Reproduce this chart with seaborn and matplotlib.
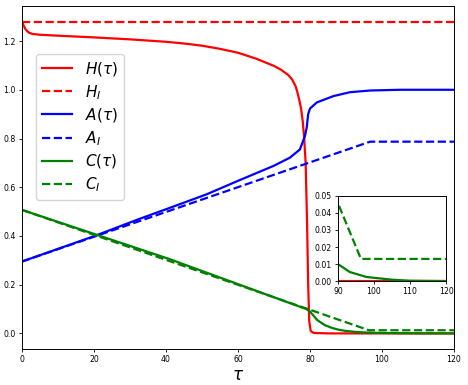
import matplotlib
matplotlib.use("Agg")
import matplotlib.pyplot as plt
import seaborn as sns

# values
tau_H = [0, 0.5, 1, 1.5, 2, 3, 5, 10, 20, 30, 40, 45, 50, 55, 60, 65, 70, 72, 74,
         75, 76, 76.5, 77, 77.5, 78, 78.4, 78.8, 79.2, 79.5, 79.8, 80.2, 81, 85, 120]
H = [1.28, 1.262, 1.248, 1.240, 1.234, 1.229, 1.226, 1.222, 1.215, 1.207, 1.197,
     1.190, 1.181, 1.168, 1.152, 1.128, 1.098, 1.082, 1.060, 1.043, 1.015, 0.99,
     0.96, 0.925, 0.87, 0.80, 0.70, 0.45, 0.2, 0.05, 0.01, 0.002, 0.0, 0.0]

tau_HI = [0, 120]
H_I = [1.28, 1.28]

tau_A = [0, 20, 32.8, 41, 51.3, 60.6, 69.8, 74.4, 77.2, 78.6, 79.1, 79.5, 80.0,
         81.9, 86.5, 91.1, 96.7, 105, 120]
A = [0.295, 0.399, 0.471, 0.515, 0.571, 0.630, 0.687, 0.721, 0.755, 0.81, 0.845,
     0.90, 0.923, 0.948, 0.974, 0.990, 0.997, 1.0, 1.0]

tau_AI = [0, 96.7, 120]
A_I = [0.295, 0.787, 0.787]

tau_C = [0, 41, 78, 79, 80, 82, 84, 86, 88, 90, 93.3, 97.9, 105, 110, 120]
C = [0.507, 0.305, 0.105, 0.10, 0.09, 0.055, 0.035, 0.023, 0.015, 0.0100, 0.0053,
     0.0024, 0.0008, 0.0002, 0.0]

tau_CI = [0, 96.4, 120]
C_I = [0.507, 0.013, 0.013]

lw = 1.6

fig = plt.figure(figsize=(4.68, 3.85), dpi=100)
ax = fig.add_axes([0.047, 0.0935, 0.923, 0.891])

sns.lineplot(x=tau_H, y=H, color="r", lw=lw, ax=ax, label=r"$H(\tau)$")
sns.lineplot(x=tau_HI, y=H_I, color="r", lw=lw, linestyle="--", ax=ax, label=r"$H_I$")
sns.lineplot(x=tau_A, y=A, color="b", lw=lw, ax=ax, label=r"$A(\tau)$")
sns.lineplot(x=tau_AI, y=A_I, color="b", lw=lw, linestyle="--", ax=ax, label=r"$A_I$")
sns.lineplot(x=tau_C, y=C, color="g", lw=lw, ax=ax, label=r"$C(\tau)$")
sns.lineplot(x=tau_CI, y=C_I, color="g", lw=lw, linestyle="--", ax=ax, label=r"$C_I$")

ax.set_xlim(0, 120)
ax.set_xlabel(r"$\tau$", fontsize=12, labelpad=1)
ax.tick_params(labelsize=5.6, length=2.5, width=0.6, pad=2)
for s in ax.spines.values():
    s.set_linewidth(0.7)
ax.legend(loc="upper left", bbox_to_anchor=(0.032, 0.86), borderaxespad=0,
          fontsize=11, labelspacing=0.31)

# inset zoom on the tail
ins = fig.add_axes([0.722, 0.270, 0.231, 0.221])
sns.lineplot(x=tau_H, y=H, color="r", lw=lw, ax=ins)
sns.lineplot(x=tau_C, y=C, color="g", lw=lw, ax=ins)
sns.lineplot(x=tau_CI, y=C_I, color="g", lw=lw, linestyle="--", ax=ins)
ins.set_xlim(90, 120)
ins.set_ylim(0, 0.05)
ins.set_xticks([90, 100, 110, 120])
ins.tick_params(labelsize=5.6, length=2.5, width=0.6, pad=2)
for s in ins.spines.values():
    s.set_linewidth(0.7)

fig.savefig("out.png", dpi=100)
